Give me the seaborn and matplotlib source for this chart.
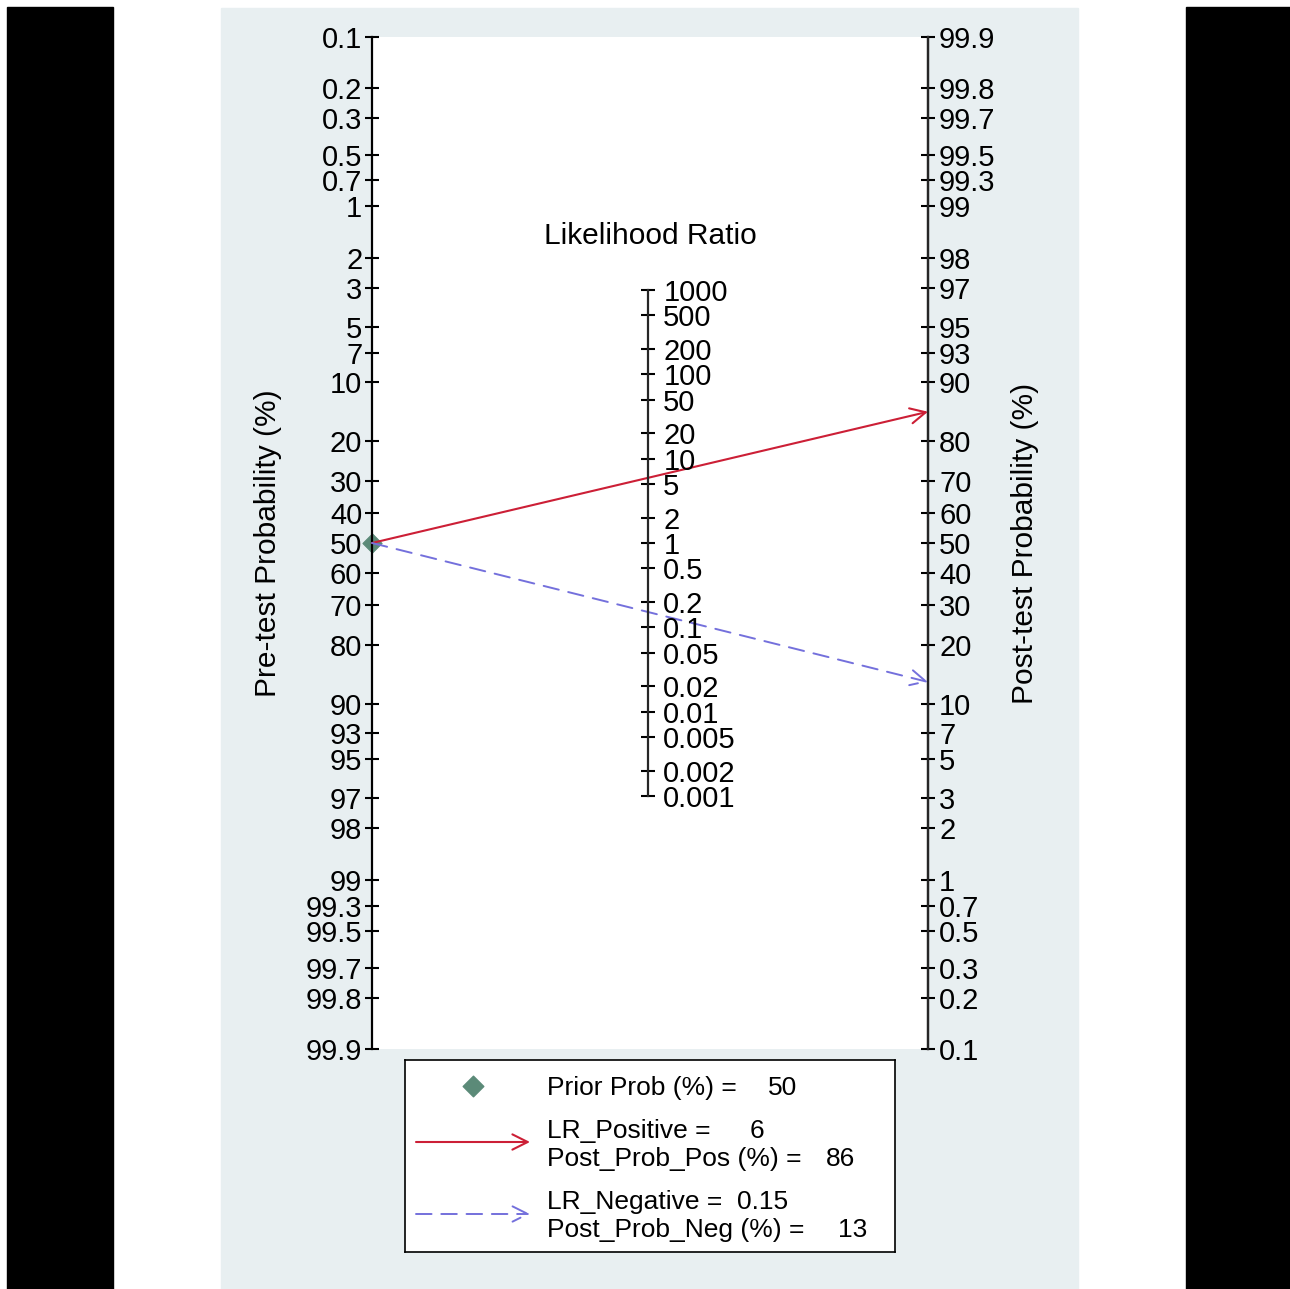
import numpy as np
import matplotlib
matplotlib.use('Agg')
import matplotlib.pyplot as plt
import seaborn as sns
from matplotlib.patches import Rectangle

# --- Style ---
sns.set_theme(style='white')
plt.rcParams['font.family'] = ['Liberation Sans', 'DejaVu Sans']
plt.rcParams['text.color'] = 'black'

# --- Data (Fagan nomogram) ---
prior_prob = 50
lr_positive = 6
lr_negative = 0.15
post_prob_pos = 86
post_prob_neg = 13

pre_ticks = [0.1, 0.2, 0.3, 0.5, 0.7, 1, 2, 3, 5, 7, 10, 20, 30, 40, 50, 60, 70, 80,
             90, 93, 95, 97, 98, 99, 99.3, 99.5, 99.7, 99.8, 99.9]
post_ticks = [0.1, 0.2, 0.3, 0.5, 0.7, 1, 2, 3, 5, 7, 10, 20, 30, 40, 50, 60, 70, 80,
              90, 93, 95, 97, 98, 99, 99.3, 99.5, 99.7, 99.8, 99.9]
lr_ticks = [1000, 500, 200, 100, 50, 20, 10, 5, 2, 1, 0.5, 0.2, 0.1, 0.05, 0.02,
            0.01, 0.005, 0.002, 0.001]

RED = '#cc1f36'
BLUE = '#7470dc'
GREEN = '#5b8a78'
PANEL = '#e8eff1'


def logit(p):
    p = np.asarray(p, dtype=float) / 100
    return np.log(p / (1 - p))


def lr_pos(lr):
    return -np.log(np.asarray(lr, dtype=float)) / 2


W, H = 1290, 1289


def box(x0, y0, x1, y1):
    return [x0 / W, 1 - y1 / H, (x1 - x0) / W, (y1 - y0) / H]


fig = plt.figure(figsize=(W / 100, H / 100), dpi=100, facecolor='white')

# background pieces
fig.add_artist(Rectangle((221 / W, 0), (1078 - 221) / W, 1 - 8 / H,
                         transform=fig.transFigure, color=PANEL, zorder=-10))
fig.add_artist(Rectangle((7 / W, 0), (113 - 7) / W, 1 - 7 / H,
                         transform=fig.transFigure, color='black', zorder=-10))
fig.add_artist(Rectangle((1186 / W, 0), (W - 1186) / W, 1 - 7 / H,
                         transform=fig.transFigure, color='black', zorder=-10))

tick_fs = 21

# --- Main axes ---
ymax = float(logit(99.9))
ax = fig.add_axes(box(372, 37, 928, 1049))
ax.set_facecolor('white')
ax.set_xlim(0, 1)
ax.set_ylim(ymax, -ymax)
ax.set_xticks([])
for s in ['top', 'bottom']:
    ax.spines[s].set_visible(False)
for s in ['left', 'right']:
    ax.spines[s].set_color('black')
    ax.spines[s].set_linewidth(1.6)

ax.set_yticks(logit(pre_ticks))
ax.set_yticklabels([f'{v:g}' for v in pre_ticks])
ax.tick_params(axis='y', direction='inout', length=10, width=1.5, labelsize=tick_fs,
               pad=2, colors='black', left=True)

ax2 = ax.twinx()
ax2.set_ylim(ymax, -ymax)
ax2.set_yticks(-logit(post_ticks))
ax2.set_yticklabels([f'{v:g}' for v in post_ticks])
ax2.tick_params(axis='y', direction='inout', length=10, width=1.5, labelsize=tick_fs,
                pad=3, colors='black', right=True)
for s in ['top', 'bottom', 'left']:
    ax2.spines[s].set_visible(False)
ax2.spines['right'].set_linewidth(1.6)

# --- Middle likelihood ratio axis ---
axm = fig.add_axes(box(646, 37, 648, 1049))
axm.set_facecolor('none')
axm.set_xticks([])
axm.set_ylim(ymax, -ymax)
for s in ['top', 'bottom', 'left']:
    axm.spines[s].set_visible(False)
axm.spines['right'].set_linewidth(1.6)
axm.spines['right'].set_bounds(lr_pos(1000), lr_pos(0.001))
axm.yaxis.tick_right()
axm.set_yticks(lr_pos(lr_ticks))
axm.set_yticklabels([f'{v:g}' for v in lr_ticks])
axm.tick_params(axis='y', direction='inout', length=10, width=1.5, labelsize=tick_fs,
                pad=6, colors='black', right=True, left=False)
fig.text(650 / W, 1 - 236 / H, 'Likelihood Ratio', ha='center', va='center',
         fontsize=21.5, color='black')

# --- Lines from prior through LR to posterior ---
prior_odds = prior_prob / (100 - prior_prob)
post_pos_calc = 100 * prior_odds * lr_positive / (1 + prior_odds * lr_positive)
post_neg_calc = 100 * prior_odds * lr_negative / (1 + prior_odds * lr_negative)

ax.annotate('', xy=(1, -logit(post_pos_calc)), xytext=(0, logit(prior_prob)),
            arrowprops=dict(arrowstyle='->,head_length=1.1,head_width=0.55',
                            color=RED, lw=1.5, shrinkA=0, shrinkB=0,
                            mutation_scale=10), annotation_clip=False)
ax.annotate('', xy=(1, -logit(post_neg_calc)), xytext=(0, logit(prior_prob)),
            arrowprops=dict(arrowstyle='->,head_length=1.1,head_width=0.55',
                            color=BLUE, lw=1.4, ls=(0, (8, 5)), shrinkA=0,
                            shrinkB=0, mutation_scale=10), annotation_clip=False)
sns.scatterplot(x=[0], y=[float(logit(prior_prob))], marker='D', s=95,
                color=GREEN, edgecolor=GREEN, ax=ax, clip_on=False, zorder=1)

fig.text(268 / W, 1 - 543 / H, 'Pre-test Probability (%)', rotation=90,
         ha='center', va='center', fontsize=21.5, color='black')
fig.text(1025 / W, 1 - 543 / H, 'Post-test Probability (%)', rotation=90,
         ha='center', va='center', fontsize=21.5, color='black')

# --- Legend box ---
lg = fig.add_axes(box(405, 1060, 895, 1252))
lg.set_xlim(0, 490)
lg.set_ylim(192, 0)
lg.set_xticks([])
lg.set_yticks([])
lg.set_facecolor('white')
for s in lg.spines.values():
    s.set_color('black')
    s.set_linewidth(1.2)
    s.set_visible(True)

fs = 19
lg.scatter([68], [26], marker='D', s=110, color=GREEN)
lg.text(142, 28, 'Prior Prob (%) =', va='center', fontsize=fs)
lg.text(363, 28, f'{prior_prob}', va='center', fontsize=fs)

lg.annotate('', xy=(125, 82), xytext=(11, 82),
            arrowprops=dict(arrowstyle='->,head_length=1.1,head_width=0.55',
                            color=RED, lw=1.5, shrinkA=0, shrinkB=0,
                            mutation_scale=10))
lg.text(142, 71, 'LR_Positive =', va='center', fontsize=fs)
lg.text(345, 71, f'{lr_positive:g}', va='center', fontsize=fs)
lg.text(142, 99, 'Post_Prob_Pos (%) =', va='center', fontsize=fs)
lg.text(421, 99, f'{post_prob_pos}', va='center', fontsize=fs)

lg.annotate('', xy=(125, 154), xytext=(11, 154),
            arrowprops=dict(arrowstyle='->,head_length=1.1,head_width=0.55',
                            color=BLUE, lw=1.4, ls=(0, (8, 5)), shrinkA=0,
                            shrinkB=0, mutation_scale=10))
lg.text(142, 142, 'LR_Negative =', va='center', fontsize=fs)
lg.text(332, 142, f'{lr_negative:g}', va='center', fontsize=fs)
lg.text(142, 170, 'Post_Prob_Neg (%) =', va='center', fontsize=fs)
lg.text(433, 170, f'{post_prob_neg}', va='center', fontsize=fs)

fig.savefig('out.png', dpi=100, facecolor='white')
